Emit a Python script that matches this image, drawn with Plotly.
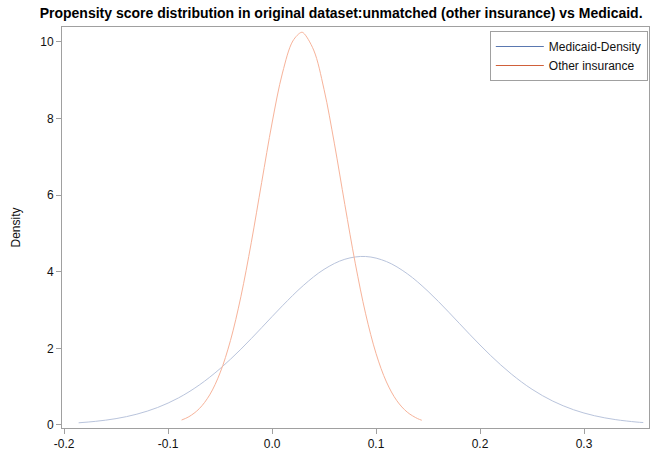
import plotly.graph_objects as go

# Medicaid-Density curve
medicaid_x = [-0.186, -0.17, -0.15, -0.13, -0.11, -0.09, -0.07, -0.05, -0.03, -0.01,
              0.01, 0.03, 0.05, 0.07, 0.09, 0.11, 0.13, 0.15, 0.17, 0.19,
              0.21, 0.23, 0.25, 0.27, 0.29, 0.31, 0.33, 0.35, 0.357]
medicaid_y = [0.056, 0.093, 0.165, 0.281, 0.456, 0.705, 1.042, 1.469, 1.977, 2.539,
              3.112, 3.639, 4.062, 4.326, 4.398, 4.266, 3.949, 3.489, 2.942, 2.367,
              1.818, 1.332, 0.931, 0.622, 0.396, 0.241, 0.140, 0.077, 0.062]

# Other insurance curve
other_x = [-0.087, -0.08, -0.07, -0.06, -0.05, -0.04, -0.03, -0.02, -0.01, 0.00,
           0.01, 0.02, 0.028, 0.03, 0.04, 0.05, 0.06, 0.07, 0.08, 0.09,
           0.10, 0.11, 0.12, 0.13, 0.14, 0.144]
other_y = [0.128, 0.214, 0.424, 0.784, 1.359, 2.204, 3.347, 4.757, 6.329, 7.882,
           9.187, 10.025, 10.25, 10.239, 9.789, 8.761, 7.339, 5.754, 4.224, 2.902,
           1.866, 1.123, 0.633, 0.334, 0.165, 0.122]

x_ticks = [-0.2, -0.1, 0.0, 0.1, 0.2, 0.3]
x_tick_labels = ["-0.2", "-0.1", "0.0", "0.1", "0.2", "0.3"]
y_ticks = [0, 2, 4, 6, 8, 10]

series_names = ["Medicaid-Density", "Other insurance"]
legend_colors = ["#5a78b0", "#d0603a"]
curve_colors = ["#b9c4dc", "#f7b39a"]

fig = go.Figure()
fig.add_trace(go.Scatter(x=medicaid_x, y=medicaid_y, mode="lines",
                         line=dict(color=curve_colors[0], width=1, shape="spline"),
                         showlegend=False, hoverinfo="skip"))
fig.add_trace(go.Scatter(x=other_x, y=other_y, mode="lines",
                         line=dict(color=curve_colors[1], width=1, shape="spline"),
                         showlegend=False, hoverinfo="skip"))
for name, col in zip(series_names, legend_colors):
    fig.add_trace(go.Scatter(x=[None], y=[None], mode="lines", name=name,
                             line=dict(color=col, width=1)))

axis_common = dict(showline=True, linecolor="#a0a0a0", linewidth=1, mirror=True,
                   showgrid=False, zeroline=False, ticks="outside", ticklen=5,
                   tickcolor="#a0a0a0", automargin=False,
                   tickfont=dict(family="Liberation Sans, Arial", size=12, color="#111"))

fig.update_layout(
    width=656, height=456,
    margin=dict(l=62, r=7, t=27, b=28),
    paper_bgcolor="white", plot_bgcolor="white",
    font=dict(family="Liberation Sans, Arial", size=12, color="#111"),
    title=dict(text="<b>Propensity score distribution in original dataset:unmatched (other insurance) vs Medicaid.</b>",
               x=0.52, xanchor="center", y=0.972, yanchor="middle",
               font=dict(family="Liberation Sans, Arial", size=14, color="#000")),
    xaxis=dict(range=[-0.202, 0.3625], tickvals=x_ticks, ticktext=x_tick_labels, **axis_common),
    yaxis=dict(range=[-0.08, 10.39], tickvals=y_ticks,
               title=dict(text="Density", standoff=17, font=dict(size=12)), **axis_common),
    legend=dict(x=0.998, y=0.99, xanchor="right", yanchor="top",
                bordercolor="#a0a0a0", borderwidth=1, bgcolor="white",
                font=dict(size=12), tracegroupgap=0, itemwidth=48),
)

fig.write_html("out.html", config={"displayModeBar": False},
               post_script="document.body.style.margin='0px';document.body.style.overflow='hidden';")
